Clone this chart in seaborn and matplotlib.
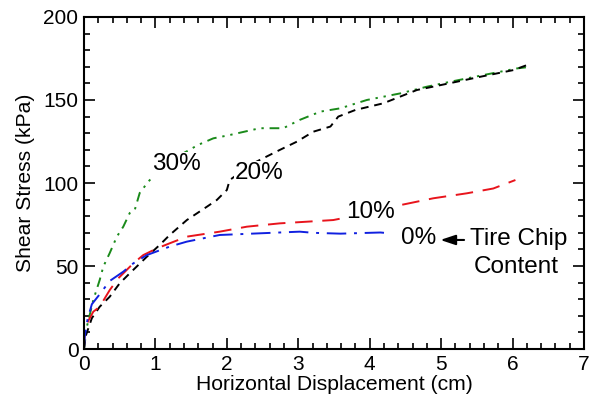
import numpy as np
import pandas as pd
import matplotlib
matplotlib.use("Agg")
import matplotlib.pyplot as plt
import seaborn as sns
from matplotlib.ticker import MultipleLocator

# ---- data ----
x30 = [0.0, 0.04, 0.13, 0.22, 0.27, 0.36, 0.46, 0.55, 0.64, 0.71, 0.78, 0.90, 1.10, 1.39, 1.60, 1.81, 2.04, 2.46, 2.79, 3.02, 3.31, 3.59, 3.96, 4.43, 4.80, 5.13, 5.59, 6.06, 6.25]
y30 = [0.0, 13.4, 29.5, 41.6, 49.6, 57.8, 67.7, 73.7, 81.9, 83.7, 94.0, 100.8, 110.0, 117.9, 123.0, 126.9, 128.9, 133.0, 133.0, 138.0, 143.0, 145.0, 150.0, 154.0, 158.0, 161.0, 165.0, 169.0, 170.0]

x20 = [0.0, 0.02, 0.11, 0.22, 0.36, 0.50, 0.64, 0.88, 1.06, 1.20, 1.44, 1.72, 1.86, 2.00, 2.04, 2.37, 2.74, 2.98, 3.21, 3.45, 3.56, 3.80, 4.19, 4.66, 5.22, 5.55, 6.01, 6.20]
y20 = [0.0, 7.4, 18.6, 25.5, 31.5, 39.6, 45.6, 55.6, 62.7, 68.7, 77.7, 85.7, 89.8, 95.8, 101.8, 111.9, 119.9, 124.9, 130.9, 134.0, 140.0, 144.0, 148.0, 156.0, 161.0, 164.0, 168.0, 171.0]

x10 = [0.0, 0.01, 0.06, 0.13, 0.22, 0.36, 0.48, 0.69, 0.83, 1.02, 1.20, 1.44, 1.90, 2.28, 2.74, 3.12, 3.49, 4.00, 4.43, 4.89, 5.36, 5.73, 6.04]
y10 = [0.0, 11.4, 17.0, 22.5, 25.5, 35.5, 42.6, 51.6, 56.6, 60.6, 63.7, 67.7, 70.7, 73.7, 75.7, 76.7, 77.7, 82.0, 86.7, 90.8, 93.8, 96.7, 101.8]

x0 = [0.0, 0.01, 0.05, 0.11, 0.22, 0.36, 0.55, 0.69, 0.88, 1.20, 1.44, 1.90, 2.46, 3.02, 3.21, 3.59, 4.15, 4.20]
y0 = [0.0, 7.4, 18.0, 27.0, 33.0, 41.0, 46.6, 51.6, 56.6, 61.7, 64.7, 68.7, 69.7, 70.7, 70.0, 69.5, 70.2, 70.0]

series_labels = ["30%", "20%", "10%", "0%"]

sns.set_style("ticks")
plt.rcParams['font.family'] = ['Liberation Sans', 'DejaVu Sans']
for k in ['text.color', 'axes.labelcolor', 'xtick.color', 'ytick.color', 'axes.edgecolor']:
    plt.rcParams[k] = 'black'

fig = plt.figure(figsize=(5.89, 4.04), dpi=100)
ax = fig.add_axes([0.1426, 0.136, 0.8489, 0.822])

styles = [
    (x30, y30, "#1a8a1a", (0, (5, 3, 1.2, 3, 1.2, 3))),
    (x20, y20, "black", (0, (4, 3))),
    (x10, y10, "#e8141c", (0, (9, 5))),
    (x0, y0, "#1020e0", (0, (10, 4, 1.5, 4))),
]
for (xs, ys, c, ls) in styles:
    df = pd.DataFrame({"x": xs, "y": ys})
    sns.lineplot(data=df, x="x", y="y", ax=ax, color=c, linestyle=ls,
                 linewidth=1.4, estimator=None, sort=False)

ax.set_xlim(0, 7)
ax.set_ylim(0, 200)
ax.xaxis.set_major_locator(MultipleLocator(1))
ax.xaxis.set_minor_locator(MultipleLocator(0.2))
ax.yaxis.set_major_locator(MultipleLocator(50))
ax.yaxis.set_minor_locator(MultipleLocator(10))
ax.tick_params(which='both', direction='in', top=True, right=True, width=1.2,
               labelsize=15, pad=4, colors='black')
ax.tick_params(which='major', length=8)
ax.tick_params(which='minor', length=4)
for s in ax.spines.values():
    s.set_linewidth(1.5)
    s.set_visible(True)
    s.set_color('black')

ax.set_xlabel("Horizontal Displacement (cm)", fontsize=15.2, labelpad=1)
ax.set_ylabel("Shear Stress (kPa)", fontsize=15.2, labelpad=6)

fs = 17.5
wb = dict(facecolor='white', edgecolor='none', pad=0.5)
ax.text(1.29, 111.5, "30%", fontsize=fs, ha='center', va='center', bbox=wb, zorder=5)
ax.text(2.45, 106.3, "20%", fontsize=fs, ha='center', va='center', bbox=wb, zorder=5)
ax.text(4.01, 82.7, "10%", fontsize=fs, ha='center', va='center', bbox=wb, zorder=5)
ax.text(4.68, 66.8, "0%", fontsize=fs, ha='center', va='center', zorder=5)
ax.text(6.08, 66.0, "Tire Chip", fontsize=fs, ha='center', va='center')
ax.text(6.05, 49.6, "Content", fontsize=fs, ha='center', va='center')
ax.annotate("", xy=(4.95, 65.7), xytext=(5.36, 65.7),
            arrowprops=dict(arrowstyle='-|>,head_length=0.9,head_width=0.3', color='black', lw=1.5))

fig.savefig("out.png", dpi=100)
